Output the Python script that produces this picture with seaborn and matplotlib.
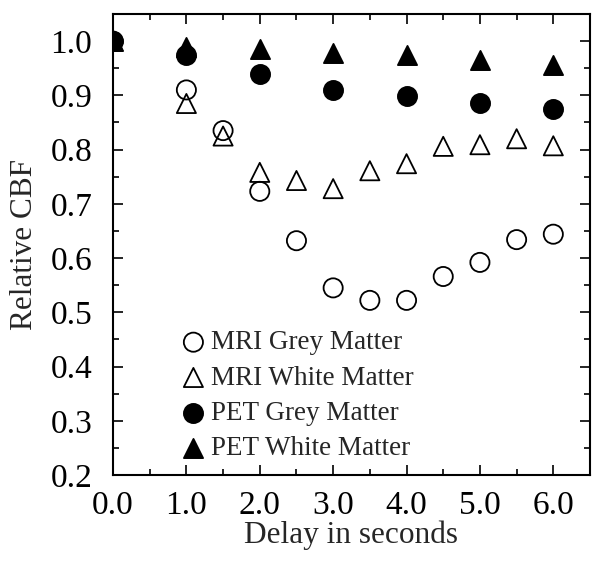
import matplotlib
matplotlib.use("Agg")
import matplotlib.pyplot as plt
import seaborn as sns
import pandas as pd
from matplotlib.ticker import MultipleLocator, FormatStrFormatter

# Data
mri_x = [0.0, 1.0, 1.5, 2.0, 2.5, 3.0, 3.5, 4.0, 4.5, 5.0, 5.5, 6.0]
mri_grey = [1.0, 0.91, 0.835, 0.723, 0.632, 0.545, 0.522, 0.522, 0.566, 0.592, 0.634, 0.644]
mri_white = [1.0, 0.885, 0.825, 0.758, 0.743, 0.728, 0.761, 0.774, 0.806, 0.809, 0.820, 0.807]
pet_x = [0.0, 1.0, 2.0, 3.0, 4.0, 5.0, 6.0]
pet_grey = [1.0, 0.975, 0.940, 0.910, 0.898, 0.885, 0.874]
pet_white = [1.0, 0.990, 0.985, 0.978, 0.974, 0.965, 0.956]
labels = ["MRI Grey Matter", "MRI White Matter", "PET Grey Matter", "PET White Matter"]

sns.set_style("ticks")
plt.rcParams['font.family'] = ['Liberation Serif', 'DejaVu Serif']

fig = plt.figure(figsize=(5.92, 5.62), dpi=100)
ax = fig.add_axes([113/592, 1-475/562, (590-113)/592, (475-14)/562])

ms = 190
series = [
    (mri_x, mri_white, "^", "none", labels[1]),
    (mri_x, mri_grey, "o", "none", labels[0]),
    (pet_x, pet_white, "^", "black", labels[3]),
    (pet_x, pet_grey, "o", "black", labels[2]),
]
handles = {}
for xs, ys, m, fc, lab in series:
    df = pd.DataFrame({"x": xs, "y": ys})
    sns.scatterplot(data=df, x="x", y="y", marker=m, s=ms, ax=ax,
                    facecolor=fc, edgecolor="black", linewidth=1.3, label=lab,
                    legend=False, zorder=3)
    handles[lab] = ax.collections[-1]

ax.set_xlim(0, 6.5)
ax.set_ylim(0.2, 1.05)
ax.xaxis.set_major_locator(MultipleLocator(1.0))
ax.xaxis.set_minor_locator(MultipleLocator(0.5))
ax.yaxis.set_major_locator(MultipleLocator(0.1))
ax.yaxis.set_minor_locator(MultipleLocator(0.05))
ax.xaxis.set_major_formatter(FormatStrFormatter("%.1f"))
ax.yaxis.set_major_formatter(FormatStrFormatter("%.1f"))
ax.set_xticks([0, 1, 2, 3, 4, 5, 6])
ax.tick_params(which="both", direction="in", top=True, right=True, width=1.2, labelsize=24, colors="black")
ax.tick_params(axis="x", which="major", pad=11)
ax.tick_params(axis="y", which="major", pad=15)
ax.tick_params(which="major", length=7)
ax.tick_params(which="minor", length=4)
for s in ax.spines.values():
    s.set_linewidth(1.5)
    s.set_color("black")

ax.set_xlabel("Delay in seconds", fontsize=22.5, labelpad=0)
ax.set_ylabel("Relative CBF", fontsize=22.5, labelpad=8)

leg = ax.legend([handles[l] for l in labels], labels, loc="lower left",
                bbox_to_anchor=(0.143, 0.03), frameon=False, fontsize=19.5,
                handlelength=0.9, handletextpad=0.2, labelspacing=0.38,
                borderpad=0, borderaxespad=0, markerscale=1.0)

fig.savefig("out.png", dpi=100)
